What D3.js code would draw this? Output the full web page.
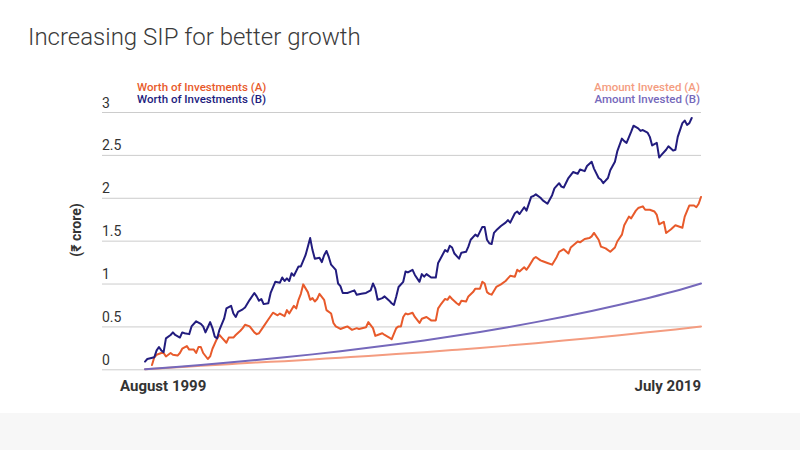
<!DOCTYPE html>
<html>
<head>
<meta charset="utf-8">
<script src="https://cdn.jsdelivr.net/npm/d3@7"></script>
<style>
  html, body { margin: 0; padding: 0; background: #ffffff; }
  svg { display: block; font-family: Roboto, "Noto Sans", sans-serif; }
</style>
</head>
<body>
<svg id="chart" width="800" height="450"></svg>
<script>
// ---------------- DATA ----------------
const title = "Increasing SIP for better growth";
const yAxisTitle = "(₹ crore)";
const yTicks = [0, 0.5, 1, 1.5, 2, 2.5, 3];
const xTickLabels = ["August 1999", "July 2019"];
const seriesNames = ["Worth of Investments (A)", "Worth of Investments (B)", "Amount Invested (A)", "Amount Invested (B)"];

// month index 0 = August 1999, 239 = July 2019
const worthBMonths = [0,1,4,5,6,7,8,9,11,12,13,15,16,17,19,20,22,24,25,26,27,28,29,30,31,32,34,35,37,38,39,40,42,43,45,47,48,49,50,51,53,54,56,58,59,60,61,62,63,64,66,67,69,70,71,72,73,75,76,77,78,79,80,82,83,84,85,87,88,90,91,93,95,97,98,99,100,102,103,105,106,107,108,109,111,112,113,115,116,118,119,120,121,123,125,126,127,129,130,131,132,133,135,136,138,139,140,142,143,145,146,147,148,149,150,151,153,155,156,157,159,160,161,163,164,166,167,168,170,171,173,175,176,178,179,180,182,184,186,187,189,190,192,193,195,196,197,199,200,202,203,205,206,207,209,210,212,213,214,216,217,218,220,221,222,224,225,227,228,229,231,232,233,234,235];
const worthB = [0.09,0.12,0.14,0.22,0.26,0.22,0.20,0.36,0.40,0.43,0.40,0.37,0.43,0.42,0.41,0.50,0.56,0.53,0.50,0.43,0.49,0.55,0.48,0.38,0.36,0.46,0.59,0.71,0.74,0.65,0.61,0.67,0.70,0.72,0.81,0.89,0.85,0.80,0.82,0.76,0.77,0.89,1.02,1.01,1.07,1.03,1.06,1.03,1.12,1.09,1.20,1.20,1.33,1.43,1.53,1.39,1.29,1.30,1.25,1.33,1.38,1.31,1.22,1.16,1.00,0.97,0.89,0.89,0.90,0.92,0.87,0.88,0.89,0.92,1.00,0.94,0.81,0.83,0.85,0.80,0.77,0.75,0.85,0.96,1.02,1.14,1.13,1.16,1.10,1.02,1.11,1.08,1.11,1.07,1.07,1.24,1.29,1.39,1.37,1.44,1.42,1.35,1.29,1.36,1.37,1.43,1.51,1.57,1.55,1.66,1.66,1.51,1.47,1.46,1.59,1.62,1.67,1.71,1.74,1.71,1.82,1.84,1.81,1.89,1.85,2.01,2.02,2.04,2.00,1.97,1.93,2.03,2.11,2.17,2.13,2.12,2.23,2.30,2.28,2.33,2.31,2.37,2.42,2.34,2.23,2.21,2.17,2.23,2.32,2.42,2.54,2.69,2.66,2.64,2.77,2.84,2.81,2.78,2.79,2.76,2.71,2.61,2.64,2.47,2.50,2.56,2.60,2.55,2.56,2.71,2.87,2.90,2.85,2.87,2.93];

const worthAMonths = [3,4,5,7,8,9,11,12,14,15,16,18,19,21,22,23,24,25,27,28,29,31,32,33,35,36,38,39,41,42,43,45,47,48,49,51,53,55,57,58,60,61,62,64,65,66,67,68,70,71,72,73,74,75,77,78,80,81,82,84,86,87,89,91,92,95,96,98,99,100,102,103,105,106,108,109,110,111,112,113,115,116,118,119,121,123,125,126,127,129,130,131,132,134,135,136,138,139,141,142,144,145,146,147,148,149,151,153,155,156,157,159,160,161,163,164,165,167,168,170,171,173,175,177,178,180,182,183,186,187,189,191,192,193,195,196,198,200,202,203,205,206,208,209,211,212,214,215,217,219,220,221,223,224,226,228,231,232,234,236,237,238,239];
const worthA = [0.05,0.14,0.17,0.19,0.19,0.15,0.19,0.17,0.16,0.19,0.24,0.27,0.23,0.23,0.19,0.26,0.26,0.19,0.12,0.15,0.24,0.36,0.40,0.37,0.31,0.37,0.37,0.40,0.45,0.48,0.52,0.50,0.43,0.41,0.42,0.50,0.58,0.66,0.63,0.65,0.62,0.69,0.65,0.74,0.71,0.81,0.88,0.99,0.90,0.81,0.83,0.79,0.82,0.88,0.81,0.69,0.65,0.54,0.50,0.47,0.49,0.50,0.46,0.48,0.47,0.49,0.55,0.48,0.39,0.40,0.42,0.40,0.37,0.35,0.48,0.50,0.50,0.61,0.65,0.64,0.66,0.61,0.54,0.59,0.61,0.57,0.57,0.71,0.75,0.82,0.81,0.85,0.82,0.77,0.75,0.80,0.79,0.85,0.90,0.94,0.94,1.02,1.00,0.90,0.88,0.87,0.96,0.99,1.03,1.06,1.09,1.08,1.16,1.14,1.19,1.16,1.20,1.29,1.31,1.27,1.26,1.24,1.22,1.31,1.37,1.40,1.35,1.42,1.49,1.48,1.52,1.53,1.55,1.59,1.51,1.43,1.41,1.37,1.42,1.49,1.57,1.68,1.78,1.76,1.85,1.88,1.90,1.86,1.86,1.84,1.80,1.69,1.72,1.59,1.63,1.68,1.65,1.78,1.91,1.91,1.89,1.93,2.01];

const investedMonths = [0,12,24,36,48,60,72,84,96,108,120,132,144,156,168,180,192,204,216,228,239];
const investedA = [0,0.02,0.04,0.06,0.08,0.095,0.115,0.135,0.155,0.178,0.20,0.224,0.249,0.276,0.305,0.335,0.366,0.398,0.431,0.465,0.50];
const investedB = [0,0.024,0.05,0.078,0.108,0.14,0.174,0.211,0.25,0.292,0.337,0.385,0.436,0.491,0.55,0.613,0.68,0.752,0.829,0.912,1.00];

// ---------------- STYLE ----------------
const colors = {
  worthA: "#e85a2b",
  worthB: "#221c7e",
  investedA: "#f49c80",
  investedB: "#7568bb"
};

const svg = d3.select("#chart");

// bottom light band
svg.append("rect").attr("x", 0).attr("y", 413).attr("width", 800).attr("height", 37).attr("fill", "#f7f7f7");

const x = d3.scaleLinear().domain([0, 239]).range([145, 701]);
const y = d3.scaleLinear().domain([0, 3]).range([369.3, 112]);

// title
svg.append("text").attr("x", 28).attr("y", 45)
  .attr("font-size", 24).attr("fill", "#3a3a3a").attr("font-weight", 300)
  .text(title);

// grid + y labels
const gridLeft = 102, gridRight = 701;
const yAxis = d3.axisRight(y).tickValues(yTicks).tickSize(gridRight - gridLeft)
  .tickFormat(d => String(d));
const gy = svg.append("g").attr("transform", `translate(${gridLeft},0)`).call(yAxis);
gy.select(".domain").remove();
gy.selectAll(".tick line").attr("stroke", "#cccccc").attr("stroke-width", 1);
gy.selectAll(".tick text")
  .attr("x", 0).attr("y", 0).attr("dy", -5).attr("text-anchor", "start")
  .attr("font-size", 14).attr("fill", "#333").attr("font-family", "Roboto, sans-serif");

// y axis title
svg.append("text")
  .attr("transform", "translate(81,230) rotate(-90)")
  .attr("text-anchor", "middle")
  .attr("font-size", 14).attr("font-weight", 700).attr("fill", "#333")
  .text(yAxisTitle);

// x labels
svg.append("text").attr("x", 120).attr("y", 391)
  .attr("font-size", 15).attr("font-weight", 700).attr("fill", "#333")
  .attr("text-anchor", "start").text(xTickLabels[0]);
svg.append("text").attr("x", 701).attr("y", 391)
  .attr("font-size", 15).attr("font-weight", 700).attr("fill", "#333")
  .attr("text-anchor", "end").text(xTickLabels[1]);

// lines
const lineLin = d3.line().x(d => x(d[0])).y(d => y(d[1]));
const lineSmooth = d3.line().x(d => x(d[0])).y(d => y(d[1])).curve(d3.curveMonotoneX);

function draw(months, vals, gen, color, w) {
  svg.append("path")
    .datum(months.map((m, i) => [m, vals[i]]))
    .attr("d", gen)
    .attr("fill", "none")
    .attr("stroke", color)
    .attr("stroke-width", w)
    .attr("stroke-linejoin", "round")
    .attr("stroke-linecap", "round");
}
draw(investedMonths, investedA, lineSmooth, colors.investedA, 2);
draw(investedMonths, investedB, lineSmooth, colors.investedB, 2);
draw(worthAMonths, worthA, lineLin, colors.worthA, 2);
draw(worthBMonths, worthB, lineLin, colors.worthB, 2);

// legends
const legFont = 11.5;
svg.append("text").attr("x", 137).attr("y", 90.5).attr("font-size", legFont).attr("font-weight", 500)
  .attr("fill", colors.worthA).text(seriesNames[0]);
svg.append("text").attr("x", 137).attr("y", 103).attr("font-size", legFont).attr("font-weight", 500)
  .attr("fill", colors.worthB).text(seriesNames[1]);
svg.append("text").attr("x", 700).attr("y", 90.5).attr("font-size", legFont).attr("font-weight", 500)
  .attr("text-anchor", "end").attr("fill", colors.investedA).text(seriesNames[2]);
svg.append("text").attr("x", 700).attr("y", 103).attr("font-size", legFont).attr("font-weight", 500)
  .attr("text-anchor", "end").attr("fill", colors.investedB).text(seriesNames[3]);
</script>
</body>
</html>
